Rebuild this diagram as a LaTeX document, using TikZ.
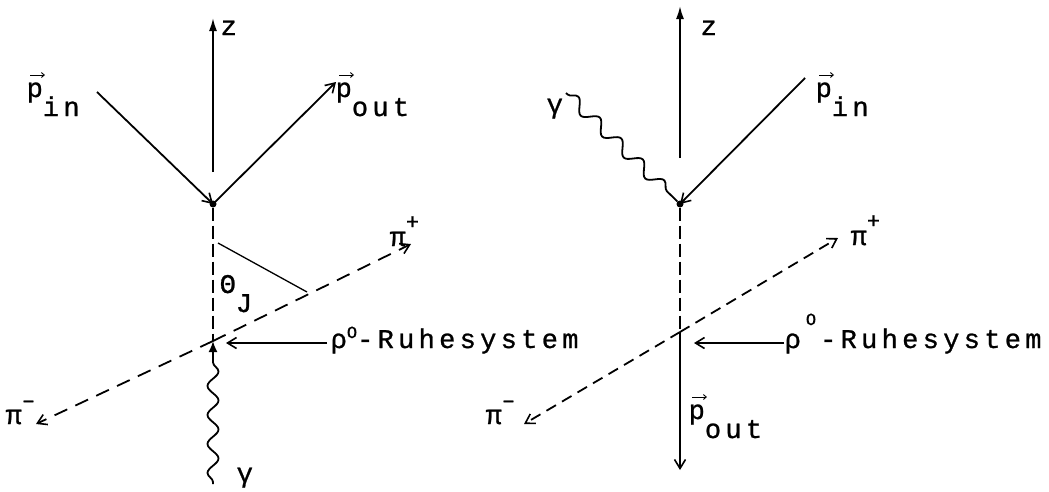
\documentclass[tikz,border=0pt]{standalone}
\usepackage{fontspec}
\newfontfamily\tw[LetterSpace=16,FakeBold=0.9]{Liberation Mono}
\usetikzlibrary{arrows.meta,decorations.pathmorphing}
\begin{document}
\begin{tikzpicture}[x=1pt,y=-1pt,
  lbl/.style={inner sep=0.5pt, font=\tw\fontsize{27}{31}\selectfont},
  ln/.style={line width=1.8pt},
  bar/.style={-{Straight Barb[length=9pt,width=11pt,line width=1.6pt]}},
  ztip/.style={-{Latex[length=13pt,width=8pt]}},
  vecarr/.style={line width=1pt, -{Straight Barb[length=3pt,width=5pt,line width=0.9pt]}},
  vdash/.style={ln, dash pattern=on 13pt off 5pt},
  pidashA/.style={ln, dash pattern=on 14pt off 9pt},
  pidashB/.style={ln, dash pattern=on 11pt off 7pt},
  dot/.style={circle, fill, inner sep=0pt, minimum size=7pt},
  photon/.style={ln, decorate, decoration={snake, amplitude=5.5pt, segment length=29pt, post length=7pt, pre length=2pt}}]
\useasboundingbox (0,0) rectangle (1049,491);
\newcommand{\sups}[1]{\raisebox{17pt}{\fontsize{22}{24}\selectfont #1}}
\newcommand{\subs}[1]{\raisebox{-19pt}{#1}}

% ---------------- left diagram ----------------
\node[dot] (v1) at (213,204) {};
\coordinate (z1b) at (213,172);
\coordinate (z1t) at (213,18);
\coordinate (pin1a) at (97,92);
\coordinate (pout1b) at (336,82);
\coordinate (x1) at (213,341);
\coordinate (g1a) at (213,484);
\coordinate (pm1t) at (36,424);
\coordinate (pp1t) at (411,244);
\coordinate (th1a) at (218,243);
\coordinate (th1b) at (307,292);
\coordinate (rt1) at (226,343);
\coordinate (rs1) at (327,343);

\draw[ln, ztip] (z1b) -- (z1t);
\draw[ln, bar] (pin1a) -- (v1.center);
\draw[ln, bar] (v1.center) -- (pout1b);
\draw[vdash] (v1) -- (x1);
\draw[pidashA, bar] (x1) -- (pp1t);
\draw[pidashA, bar] (x1) -- (pm1t);
\draw[line width=1.3pt] (th1a) -- (th1b);
\draw[photon, -{Latex[length=11pt,width=9pt]}] (g1a) -- (x1);
\draw[ln, bar] (rs1) -- (rt1);

\node[lbl, anchor=base west] (zl1) at (220,35) {z};
\node[lbl, anchor=base west] (pin1) at (26,97) {p\subs{in}};
\node[lbl, anchor=base west] (pout1) at (335,97) {p\subs{out}};
\node[lbl, anchor=base west] (th1) at (219,293) {Θ\subs{J}};
\node[lbl, anchor=base west] (pp1) at (389,246) {π\sups{+}};
\node[lbl, anchor=base west] (pm1) at (5,424) {π\sups{–}};
\node[lbl, anchor=base west] (rho1) at (330,348) {ρ\raisebox{10pt}{\fontsize{17}{19}\selectfont O}-Ruhesystem};
\node[lbl, anchor=base west] (gl1) at (236,482) {γ};
\draw[vecarr] ([xshift=4pt,yshift=22pt]pin1.base west) -- +(15pt,0);
\draw[vecarr] ([xshift=4pt,yshift=22pt]pout1.base west) -- +(15pt,0);

% ---------------- right diagram ----------------
\node[dot] (v2) at (680,204) {};
\coordinate (z2b) at (680,158);
\coordinate (z2t) at (680,6);
\coordinate (g2a) at (566,93);
\coordinate (pin2a) at (805,78);
\coordinate (x2) at (680,332);
\coordinate (pout2t) at (680,470);
\coordinate (pm2t) at (524,424);
\coordinate (pp2t) at (838,238);
\coordinate (rt2) at (694,343);
\coordinate (rs2) at (784,343);

\draw[ln, ztip] (z2b) -- (z2t);
\draw[ln, bar] (pin2a) -- (v2.center);
\draw[photon, decoration={snake, amplitude=6pt, segment length=30pt, post length=3pt, pre length=2pt}] (g2a) -- (v2);
\draw[vdash] (v2) -- (x2);
\draw[ln, bar] (x2) -- (pout2t);
\draw[pidashB, bar] (x2) -- (pp2t);
\draw[pidashB, bar] (x2) -- (pm2t);
\draw[ln, bar] (rs2) -- (rt2);

\node[lbl, anchor=base west] (zl2) at (700,35) {z};
\node[lbl, anchor=base west] (gl2) at (546,113) {γ};
\node[lbl, anchor=base west] (pin2) at (815,97) {p\subs{in}};
\node[lbl, anchor=base west] (pout2) at (688,419) {p\subs{out}};
\node[lbl, anchor=base west] (pp2) at (850,245) {π\sups{+}};
\node[lbl, anchor=base west] (pm2) at (485,424) {π\sups{–}};
\node[lbl, anchor=base west] (rho2) at (784,348) {ρ\kern5pt\raisebox{23pt}{\fontsize{17}{19}\selectfont O}\kern4pt-Ruhesystem};
\draw[vecarr] ([xshift=4pt,yshift=22pt]pin2.base west) -- +(15pt,0);
\draw[vecarr] ([xshift=4pt,yshift=22pt]pout2.base west) -- +(15pt,0);
\end{tikzpicture}
\end{document}
